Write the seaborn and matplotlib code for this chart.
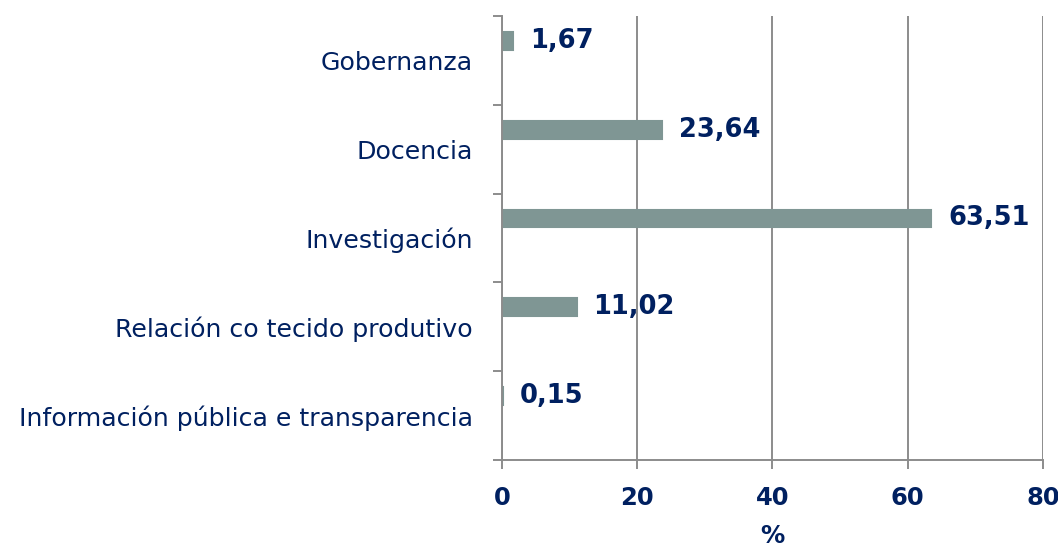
import matplotlib
matplotlib.use("Agg")
import numpy as np
import pandas as pd
import matplotlib.pyplot as plt
import seaborn as sns

# Data
categories = ["Gobernanza", "Docencia", "Investigación",
              "Relación co tecido produtivo", "Información pública e transparencia"]
values = [1.67, 23.64, 63.51, 11.02, 0.15]
x_ticks = [0, 20, 40, 60, 80]

sns.set_style("white")
plt.rcParams["font.family"] = ["DejaVu Sans"]

navy = "#002060"
bar_color = "#7f9694"
grid_color = "#8c8c8c"

df = pd.DataFrame({"categoria": categories, "valor": values})

fig = plt.figure(figsize=(10.58, 5.5), dpi=100)
ax = fig.add_axes([0.4745, 0.1636, 0.5113, 0.8073])

sns.barplot(data=df, x="valor", y="categoria", orient="h", color=bar_color,
            width=0.2, saturation=1, linewidth=1.5, edgecolor=bar_color, ax=ax)

# bars sit in the upper part of each band (like an Excel clustered bar)
for p in ax.patches:
    p.set_y(p.get_y() - 0.22)

for p, v in zip(ax.patches, values):
    ax.annotate(f"{v:.2f}".replace(".", ","),
                xy=(p.get_width(), p.get_y() + p.get_height() / 2),
                xytext=(12, 0), textcoords="offset points",
                va="center", ha="left", fontsize=18.5, fontweight="bold", color=navy)

ax.set_xlim(0, 80)
ax.set_xticks(x_ticks)
ax.set_xticklabels([str(t) for t in x_ticks], fontsize=17.5, fontweight="bold", color=navy)
ax.set_ylim(len(categories) - 0.5, -0.5)

ax.set_yticks(np.arange(-0.5, len(categories), 1), minor=True)
ax.tick_params(axis="y", which="major", length=0, pad=21, labelsize=18.2, labelcolor=navy)
ax.tick_params(axis="y", which="minor", length=6.5, width=1.4, color=grid_color, direction="out", left=True)
ax.tick_params(axis="x", which="major", length=6.5, width=1.4, color=grid_color, direction="out",
               bottom=True, pad=12)

ax.xaxis.grid(True, color=grid_color, linewidth=1.4)
ax.set_axisbelow(True)

ax.set_ylabel("")
ax.set_xlabel("%", fontsize=17.5, fontweight="bold", color=navy, labelpad=10)

for side in ["top", "right"]:
    ax.spines[side].set_visible(False)
for side in ["left", "bottom"]:
    ax.spines[side].set_color(grid_color)
    ax.spines[side].set_linewidth(1.4)

fig.savefig("out.png", dpi=100)
